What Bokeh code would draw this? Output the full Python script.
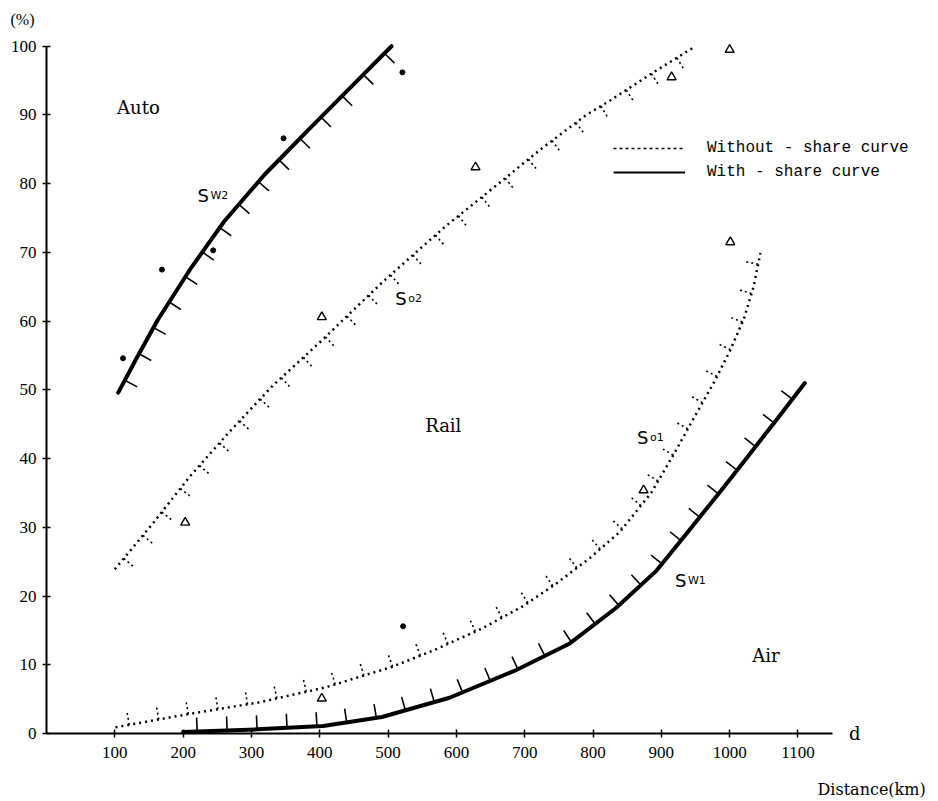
import numpy as np
from bokeh.plotting import figure
from bokeh.models import Range1d, FixedTicker, Label, Legend, LegendItem, Title
from bokeh.embed import file_html
from bokeh.resources import INLINE

# ---------------- data ----------------
x_ticks = [100, 200, 300, 400, 500, 600, 700, 800, 900, 1000, 1100]
y_ticks = [0, 10, 20, 30, 40, 50, 60, 70, 80, 90, 100]

# With-share curve, auto/rail boundary (Sw2)
sw2_d = [105, 134, 163, 212, 260, 319, 384, 447, 505]
sw2_s = [49.6, 55.0, 60.2, 67.8, 74.5, 81.3, 87.9, 94.2, 100.0]

# Without-share curve, auto/rail boundary (So2)
so2_d = [100, 156, 209, 266, 329, 403, 491, 535, 584, 653, 722, 790, 825, 890, 950]
so2_s = [23.9, 30.6, 37.3, 43.7, 50.4, 57.2, 65.6, 69.5, 73.8, 79.3, 84.9, 90.0, 92.1, 96.3, 100.0]

# Without-share curve, rail/air boundary (So1)
so1_d = [101, 212, 310, 408, 506, 569, 638, 697, 746, 795, 839, 885, 918, 947, 976, 1001, 1021, 1035, 1045]
so1_s = [0.9, 2.9, 4.5, 6.7, 9.7, 12.2, 15.3, 18.5, 21.8, 25.5, 29.3, 35.0, 40.6, 45.8, 50.9, 55.8, 60.4, 65.0, 69.9]

# With-share curve, rail/air boundary (Sw1)
sw1_d = [200, 308, 405, 491, 590, 687, 766, 834, 893, 937, 987, 1025, 1069, 1110]
sw1_s = [0.2, 0.6, 1.1, 2.4, 5.2, 9.2, 13.1, 18.3, 23.7, 29.1, 35.3, 40.1, 45.7, 51.0]

# observed points
dot_d = [112, 169, 244, 347, 521, 522]
dot_s = [54.6, 67.5, 70.3, 86.6, 96.2, 15.6]
tri_d = [203, 403, 628, 915, 1000, 1001, 874, 403]
tri_s = [30.7, 60.6, 82.4, 95.5, 99.5, 71.5, 35.4, 5.1]

# ---------------- layout ----------------
W, H = 930, 798
ML, MR, MT, MB = 46, 0, 32, 0
XMAX = 1294
YMIN, YMAX = -9.46, 102
sx = (W - ML - MR) / XMAX
sy = (H - MT - MB) / (YMAX - YMIN)

p = figure(width=W, height=H, x_range=Range1d(0, XMAX), y_range=Range1d(YMIN, YMAX),
           output_backend="svg", toolbar_location=None,
           min_border_left=ML, min_border_right=MR, min_border_top=MT, min_border_bottom=MB)
p.grid.visible = False
p.outline_line_color = None

for ax in (p.xaxis, p.yaxis):
    ax.axis_line_width = 2
    ax.axis_line_color = "black"
    ax.major_tick_line_color = "black"
    ax.major_tick_line_width = 1.5
    ax.major_tick_in = 4
    ax.major_tick_out = 4
    ax.minor_tick_line_color = None
    ax.major_label_text_font = "Liberation Serif"
    ax.major_label_text_font_size = "17px"
    ax.major_label_text_color = "black"
p.xaxis.ticker = FixedTicker(ticks=x_ticks)
p.yaxis.ticker = FixedTicker(ticks=y_ticks)
p.xaxis.bounds = (0, 1150)
p.yaxis.bounds = (0, 100)
p.xaxis.fixed_location = 0
p.xaxis.major_label_standoff = 10
p.yaxis.major_label_standoff = 6


def hatch_segments(xs, ys, side, spacing=30.0, length=14.0, offset=14.0):
    X = np.asarray(xs, float) * sx
    Y = np.asarray(ys, float) * sy
    seg = np.hypot(np.diff(X), np.diff(Y))
    s = np.concatenate([[0.0], np.cumsum(seg)])

    def at(t):
        t = min(max(t, 0.0), s[-1])
        i = min(max(np.searchsorted(s, t) - 1, 0), len(seg) - 1)
        f = (t - s[i]) / seg[i]
        return X[i] + f * (X[i + 1] - X[i]), Y[i] + f * (Y[i + 1] - Y[i])

    x0, y0, x1, y1 = [], [], [], []
    for t in np.arange(offset, s[-1] - 4, spacing):
        px, py = at(t)
        ax_, ay_ = at(t - 8)
        bx_, by_ = at(t + 8)
        tx, ty = bx_ - ax_, by_ - ay_
        n = np.hypot(tx, ty)
        tx, ty = tx / n, ty / n
        if side == "down":
            nx, ny = ty, -tx
        else:
            nx, ny = -ty, tx
        x0.append(px / sx); y0.append(py / sy)
        x1.append((px + nx * length) / sx); y1.append((py + ny * length) / sy)
    return x0, y0, x1, y1


BLACK = "black"
# curves
p.line(sw2_d, sw2_s, line_width=4, color=BLACK, line_join="round", line_cap="round")
p.line(sw1_d, sw1_s, line_width=4, color=BLACK, line_join="round", line_cap="round")
p.line(so2_d, so2_s, line_width=2.5, color=BLACK, line_dash="2 4", line_join="round")
p.line(so1_d, so1_s, line_width=2.5, color=BLACK, line_dash="2 4", line_join="round")

# hatch marks (pointing to the rail region)
for d, s, side, dash in [(sw2_d, sw2_s, "down", "solid"), (so2_d, so2_s, "down", "2 3"),
                         (so1_d, so1_s, "up", "2 3"), (sw1_d, sw1_s, "up", "solid")]:
    a, b, c, e = hatch_segments(d, s, side)
    p.segment(a, b, c, e, line_width=1.6, color=BLACK, line_dash=dash)

# observed points
p.scatter(dot_d, dot_s, marker="circle", size=5, color=BLACK)
p.scatter(tri_d, tri_s, marker="triangle", size=9, fill_color="white", line_color=BLACK, line_width=1.4)

# legend with its own styled renderers (no visible data)
r_wo = p.line(x=[np.nan], y=[np.nan], line_width=1.6, color=BLACK, line_dash="3 3")
r_w = p.line(x=[np.nan], y=[np.nan], line_width=2.2, color=BLACK)
legend = Legend(items=[LegendItem(label="Without - share curve", renderers=[r_wo]),
                       LegendItem(label="With - share curve", renderers=[r_w])],
                location=(567, 616), glyph_width=72, glyph_height=20, label_height=20,
                spacing=4, padding=0, margin=0, label_standoff=22,
                border_line_color=None, background_fill_alpha=0,
                label_text_font="Liberation Mono", label_text_font_size="16px",
                label_text_color=BLACK)
p.add_layout(legend)

# region labels
for txt, x, y in [("Auto", 134.6, 91.1), ("Rail", 580.8, 44.8), ("Air", 1053, 11.3)]:
    p.add_layout(Label(x=x, y=y, text=txt, text_font="DejaVu Serif", text_font_size="18px",
                       text_align="center", text_baseline="middle", text_color=BLACK))

# curve labels
for big, small, x, xs_, y in [("S", "W2", 221, 240, 78.3), ("S", "o2", 510.5, 529.6, 63.3),
                              ("S", "o1", 864.5, 883.5, 43.1), ("S", "W1", 920, 939, 22.3)]:
    p.add_layout(Label(x=x, y=y, text=big, text_font="DejaVu Sans", text_font_size="18px",
                       text_align="left", text_baseline="alphabetic", text_color=BLACK))
    p.add_layout(Label(x=xs_, y=y, text=small, text_font="DejaVu Sans", text_font_size="11px",
                       text_align="left", text_baseline="alphabetic", text_color=BLACK))

# axis end label and axis title
p.add_layout(Label(x=1183, y=0, text="d", text_font="DejaVu Serif", text_font_size="18px",
                   text_align="center", text_baseline="middle", text_color=BLACK))
p.add_layout(Label(x=1287, y=-8.1, text="Distance(km)", text_font="DejaVu Serif", text_font_size="16px",
                   text_align="right", text_baseline="middle", text_color=BLACK))

# unit label above the frame
p.add_layout(Title(text="(%)", align="left", offset=-36, text_font="Liberation Serif",
                   text_font_size="16px", text_font_style="normal", text_color=BLACK), "above")

open("out.html", "w").write(file_html(p, INLINE))
